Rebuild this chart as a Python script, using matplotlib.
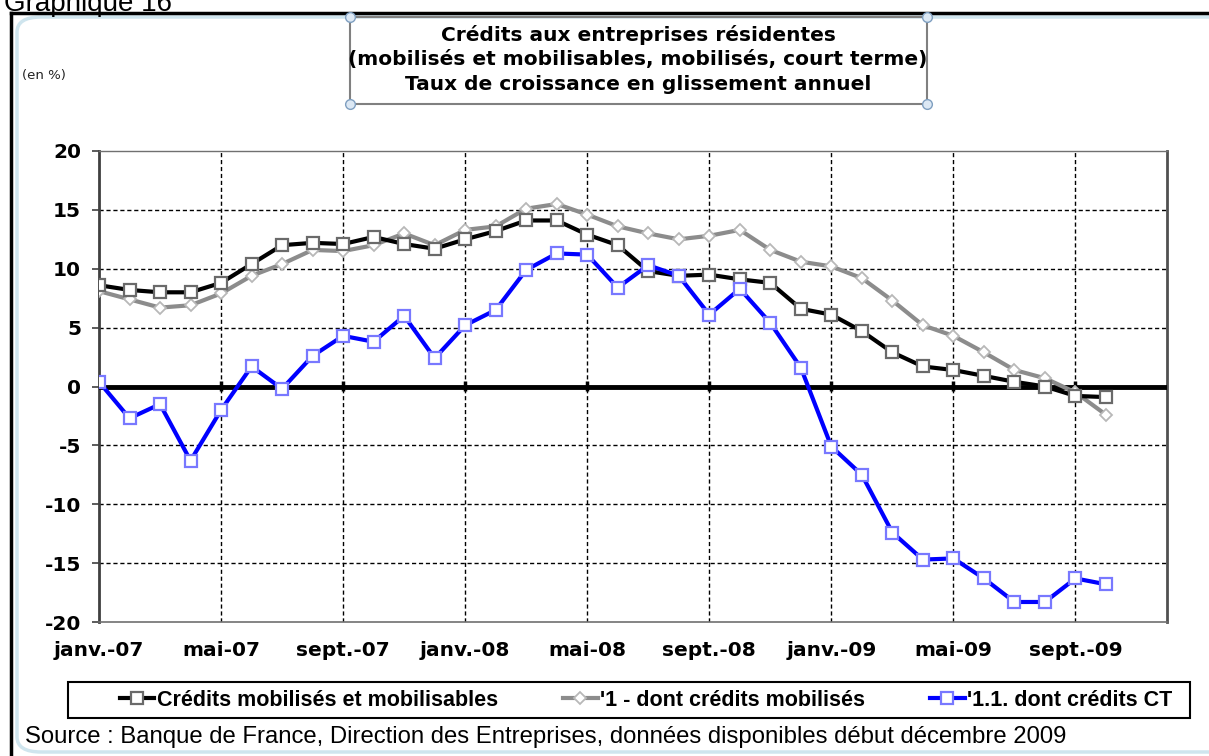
import numpy as np
import matplotlib.pyplot as plt
from matplotlib.patches import Rectangle, FancyBboxPatch
from matplotlib.lines import Line2D

plt.rcParams["axes.unicode_minus"] = False

# mois de janv.-07 a oct.-09
mois_noms = ["janv.", "févr.", "mars", "avr.", "mai", "juin",
             "juil.", "août", "sept.", "oct.", "nov.", "déc."]
annees = ["07", "08", "09"]
mois = [m + "-" + a for a in annees for m in mois_noms][:34]

credits_mm = [8.6, 8.2, 8.0, 8.0, 8.8, 10.4, 12.0, 12.2, 12.1, 12.7, 12.1, 11.7,
              12.5, 13.2, 14.1, 14.1, 12.9, 12.0, 9.8, 9.4, 9.5, 9.1, 8.8, 6.6,
              6.1, 4.7, 2.9, 1.7, 1.4, 0.9, 0.4, 0.0, -0.8, -0.9]
credits_mob = [8.1, 7.4, 6.7, 6.9, 7.9, 9.4, 10.4, 11.6, 11.5, 12.0, 13.0, 12.0,
               13.3, 13.6, 15.1, 15.5, 14.6, 13.6, 13.0, 12.5, 12.8, 13.3, 11.6, 10.6,
               10.2, 9.2, 7.3, 5.2, 4.3, 2.9, 1.4, 0.7, -0.5, -2.4]
credits_ct = [0.4, -2.7, -1.5, -6.3, -2.0, 1.7, -0.2, 2.6, 4.3, 3.8, 6.0, 2.4,
              5.2, 6.5, 9.9, 11.3, 11.2, 8.4, 10.3, 9.4, 6.1, 8.3, 5.4, 1.6,
              -5.1, -7.5, -12.4, -14.7, -14.6, -16.3, -18.3, -18.3, -16.3, -16.8]

noms_series = ["Crédits mobilisés et mobilisables", "'1 - dont crédits mobilisés",
               "'1.1. dont crédits CT"]

W, H = 1209, 756
fig = plt.figure(figsize=(W / 100, H / 100), dpi=100)

def fx(px):
    return px / W

def fy(py):
    return 1 - py / H

ax = fig.add_axes([fx(99), fy(622), fx(1167) - fx(99), fy(151) - fy(622)])
x = np.arange(len(mois))

ax.plot(x, credits_mob, color="#8c8c8c", lw=3, marker="D", ms=6.5,
        mfc="white", mec="#b8b8b8", mew=1.3, zorder=4, label=noms_series[1])
ax.plot(x, credits_mm, color="black", lw=3, marker="s", ms=9,
        mfc="white", mec="#6a6a6a", mew=1.6, zorder=5, label=noms_series[0])
ax.plot(x, credits_ct, color="#0000ff", lw=3, marker="s", ms=9,
        mfc="white", mec="#7878ff", mew=1.6, zorder=6, label=noms_series[2])

ax.axhline(0, color="black", lw=3.5, zorder=3)

ax.set_xlim(0, 35)
ax.set_ylim(-20, 20)
ax.set_yticks(np.arange(-20, 21, 5))
ticks_x = x[::4]
ax.set_xticks(ticks_x)
ax.set_xticklabels([mois[i] for i in ticks_x])

for v in [-15, -10, -5, 5, 10, 15]:
    ax.axhline(v, color="black", lw=1, ls=(0, (3, 2)), zorder=1)
for t in ticks_x[1:]:
    ax.axvline(t, color="black", lw=1, ls=(0, (3, 2)), zorder=1)

# petites graduations sur l'axe des categories (y=0)
sec = ax.secondary_xaxis(0.5)
sec.set_xticks(ticks_x[1:])
sec.set_xticklabels([])
sec.tick_params(direction="inout", length=7, width=2.5, color="black")
sec.spines["bottom"].set_visible(False)

ax.tick_params(axis="y", direction="out", length=5, width=1.2, pad=8,
               labelsize=14.5, color="#404040")
ax.tick_params(axis="x", length=0, pad=14, labelsize=14.5)
for lab in ax.get_xticklabels() + ax.get_yticklabels():
    lab.set_fontweight("bold")

ax.spines["left"].set_color("#404040")
ax.spines["left"].set_linewidth(2)
ax.spines["right"].set_color("#505050")
ax.spines["right"].set_linewidth(2)
ax.spines["top"].set_color("#707070")
ax.spines["top"].set_linewidth(1)
ax.spines["bottom"].set_color("#707070")
ax.spines["bottom"].set_linewidth(1.2)

# legende : cadre dessine a part, entrees reparties dans la zone interieure
fig.add_artist(Rectangle((fx(68), fy(718)), fx(1190) - fx(68), fy(682) - fy(718),
                         transform=fig.transFigure, fill=False,
                         edgecolor="black", lw=1.5))
handles, labels = ax.get_legend_handles_labels()
order = [1, 0, 2]
leg = fig.legend([handles[i] for i in order], [labels[i] for i in order],
                 loc="center", ncol=3, mode="expand",
                 bbox_to_anchor=(fx(120), fy(718), fx(1172) - fx(120), fy(682) - fy(718)),
                 frameon=False, handlelength=1.6, handletextpad=0.1,
                 borderpad=0.0, borderaxespad=0.0, columnspacing=1.0,
                 prop={"family": "Liberation Sans", "weight": "bold", "size": 15.5})

# cadre du graphique
fig.add_artist(Line2D([fx(11), 1.0], [fy(13), fy(13)], color="black", lw=2.5,
                      transform=fig.transFigure))
fig.add_artist(Line2D([fx(11), fx(11)], [fy(13), 0.0], color="black", lw=2.5,
                      transform=fig.transFigure))
fig.add_artist(FancyBboxPatch((fx(17), fy(752)), fx(1260) - fx(17), fy(17) - fy(752),
                              boxstyle="round,pad=0,rounding_size=0.02",
                              transform=fig.transFigure, fill=False,
                              edgecolor="#cfe5ee", lw=2.5))

# titre dans une zone encadree
fig.add_artist(Rectangle((fx(350), fy(104)), fx(927) - fx(350), fy(17) - fy(104),
                         transform=fig.transFigure, fill=False,
                         edgecolor="#808080", lw=1.5))
for cx, cy in [(350, 17), (927, 17), (350, 104), (927, 104)]:
    fig.add_artist(Line2D([fx(cx)], [fy(cy)], marker="o", ms=7, mfc="#dce8f4",
                          mec="#7f9fc0", mew=1, transform=fig.transFigure))

titre = ["Crédits aux entreprises résidentes",
         "(mobilisés et mobilisables, mobilisés, court terme)",
         "Taux de croissance en glissement annuel"]
for i, ligne in enumerate(titre):
    fig.text(fx(638), fy(35 + 25 * i), ligne, ha="center", va="center",
             fontsize=14.5, fontweight="bold")

fig.text(fx(22), fy(76), "(en %)", ha="left", va="center", fontsize=9.5,
         color="#222222")
fig.text(fx(4), fy(11), "Graphique 16", ha="left", va="baseline", fontsize=20,
         family="Liberation Sans")
fig.text(fx(25), fy(737), "Source : Banque de France, Direction des Entreprises, "
         "données disponibles début décembre 2009", ha="left", va="center",
         fontsize=17.2, family="Liberation Sans")

fig.savefig("out.png", dpi=100)
